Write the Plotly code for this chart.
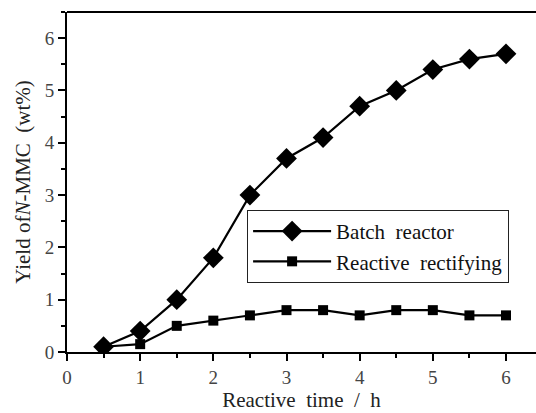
import plotly.graph_objects as go

time_h = [0.5, 1, 1.5, 2, 2.5, 3, 3.5, 4, 4.5, 5, 5.5, 6]
batch = [0.1, 0.4, 1.0, 1.8, 3.0, 3.7, 4.1, 4.7, 5.0, 5.4, 5.6, 5.7]
rectifying = [0.1, 0.15, 0.5, 0.6, 0.7, 0.8, 0.8, 0.7, 0.8, 0.8, 0.7, 0.7]
tick_vals = [0, 1, 2, 3, 4, 5, 6]

font_family = "Liberation Serif, Times New Roman, serif"

fig = go.Figure()
fig.add_trace(go.Scatter(x=time_h, y=batch, mode="lines+markers", name="Batch  reactor",
                         line=dict(color="black", width=2.2),
                         marker=dict(symbol="diamond", size=16, color="black")))
fig.add_trace(go.Scatter(x=time_h, y=rectifying, mode="lines+markers", name="Reactive  rectifying",
                         line=dict(color="black", width=2.2),
                         marker=dict(symbol="square", size=10, color="black")))

fig.update_layout(
    width=536, height=413,
    margin=dict(l=67, r=0, t=12, b=61),
    paper_bgcolor="white", plot_bgcolor="white",
    font=dict(family=font_family, color="#222", size=19),
    showlegend=True,
    legend=dict(x=0.384, y=0.418, xanchor="left", yanchor="top",
                bordercolor="#222", borderwidth=1, bgcolor="white",
                font=dict(size=21, family=font_family, color="#111"),
                tracegroupgap=0, itemwidth=78),
    xaxis=dict(range=[0, 6.41], tickvals=tick_vals, showgrid=False, zeroline=False,
               showline=True, linecolor="black", linewidth=2,
               ticks="outside", ticklen=7, tickwidth=2, tickcolor="black",
               minor=dict(ticks="outside", dtick=0.5, ticklen=4, tickwidth=2, tickcolor="black"),
               title=dict(text="Reactive  time  /  h", font=dict(size=21), standoff=6),
               tickfont=dict(size=19, color="#444")),
    yaxis=dict(range=[0, 6.5], tickvals=tick_vals, showgrid=False, zeroline=False,
               showline=True, linecolor="black", linewidth=2,
               ticks="outside", ticklen=7, tickwidth=2, tickcolor="black",
               minor=dict(ticks="outside", dtick=0.5, ticklen=4, tickwidth=2, tickcolor="black"),
               title=dict(text="Yield of<i>N</i>-MMC  (wt%)", font=dict(size=21), standoff=8),
               tickfont=dict(size=19, color="#444")),
)
fig.add_shape(type="line", xref="paper", yref="paper", x0=0, x1=1, y0=1, y1=1,
              line=dict(color="black", width=2))

fig.write_html("out.html")
